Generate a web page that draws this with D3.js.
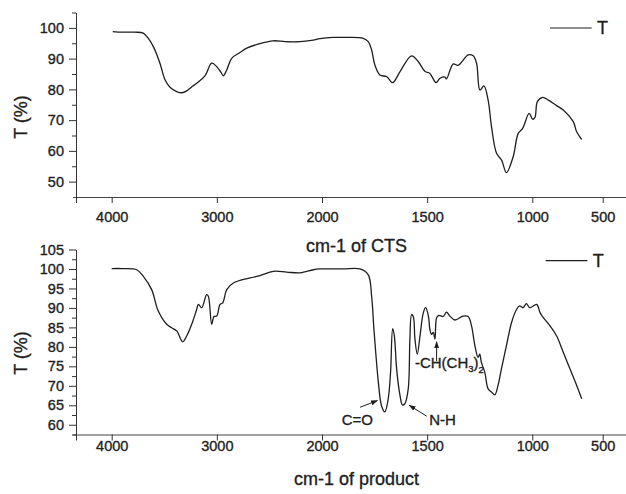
<!DOCTYPE html>
<html><head><meta charset="utf-8">
<script src="https://cdn.jsdelivr.net/npm/d3@7"></script>
<style>
html,body{margin:0;padding:0;background:#fff;}
svg{display:block;font-family:"Liberation Sans",Arial,Helvetica,sans-serif;}
svg text{stroke:#1e1e1e;stroke-width:0.35px;}
</style></head>
<body><svg id="c" width="626" height="494"></svg>
<script>
// ---- data (wavenumber cm-1, transmittance %) ----
const ctsWave = [3990,3900,3780,3700,3650,3604,3541,3493,3446,3382,3334,3287,3240,3192,3113,3049,3001,2960,2939,2906,2859,2780,2716,2600,2463,2350,2209,2100,2019,1946,1880,1804,1780,1764,1749,1725,1692,1664,1629,1574,1542,1510,1487,1458,1439,1415,1408,1376,1353,1305,1281,1265,1249,1230,1210,1194,1170,1146,1123,1091,1067,1046,1015,998,981,964,926,886,830,780,709,685,649];
const ctsT    = [98.8,98.6,98.6,98.3,96.5,93.9,88.5,83.1,80.7,79.3,78.9,79.5,80.8,82.0,84.4,88.5,87.4,85.5,84.4,86.3,90.1,92.0,93.4,94.8,95.8,95.5,95.5,95.9,96.5,96.9,96.9,96.6,95.5,92.8,88.0,84.7,84.1,82.2,85.8,90.9,89.0,85.8,85.2,82.2,83.6,84.0,83.4,88.3,87.8,91.2,90.9,88.5,79.8,81.1,76.5,67.9,59.2,57.0,52.9,58.1,65.7,67.3,72.2,70.3,70.9,76.0,77.4,76.5,74.8,73.3,69.5,66.2,63.7];

const prodWave = [4000,3900,3762,3699,3620,3557,3477,3430,3382,3325,3287,3239,3192,3176,3144,3097,3081,3049,3027,3001,2970,2944,2906,2843,2685,2590,2463,2336,2209,2082,2025,1900,1819,1780,1764,1753,1732,1717,1701,1685,1674,1664,1656,1645,1629,1618,1606,1590,1582,1574,1566,1558,1547,1534,1518,1507,1494,1487,1479,1471,1463,1455,1444,1424,1408,1392,1368,1329,1305,1289,1273,1258,1250,1242,1226,1210,1194,1178,1163,1147,1123,1099,1075,1060,1044,1028,1012,969,945,922,874,827,780,732,685,649];
const prodT    = [100.1,100.1,99.8,98.1,94.7,89.2,85.8,84.9,84.1,81.3,82.8,85.8,89.6,90.9,90.05,93.4,93.0,85.8,87.8,87.9,90.9,91.3,94.7,96.4,97.7,98.3,99.4,99.2,99.0,99.8,100,100,100,98.5,93.0,84.5,70.9,64.9,63.3,66.7,73.5,84.7,82.8,74.3,67.5,65.1,65.4,69.2,82.0,88.3,87.8,82.0,78.1,82.8,88.8,90.05,87.9,84.5,83.2,83.7,82.0,87.5,88.1,87.8,88.9,87.9,86.9,87.9,87.8,85.4,80.3,77.3,78.1,76.0,73.5,69.2,68.4,67.7,70.1,74.3,80.3,86.2,89.6,90.5,90.05,91.1,90.05,90.9,88.8,87.5,85.4,82.8,78.6,74.3,70.1,66.7];

const xTickValues = [4000,3000,2000,1500,1000,500];
const topYTicks = [50,60,70,80,90,100];
const botYTicks = [60,65,70,75,80,85,90,95,100,105];
const seriesName = "T";
const titles = ["cm-1 of CTS","cm-1 of product"];

// annotations: label, arrow-from (w,T), arrow-to (w,T), label anchor (w,T)
const annotations = [
  {text:"C=O", from:[1819,64.5], to:[1737,66.2], at:[1832,59.9], anchor:"middle"},
  {text:"N-H", from:[1502,62.2], to:[1585,65.0], at:[1490,59.9], anchor:"start"},
  {text:"-CH(CH", sub1:"3", mid:")", sub2:"2", from:[1455,76.3], to:[1455,81.3], at:[1558,74.6], anchor:"start"}
];

// ---- layout ----
const svg = d3.select("#c");
const axisX0 = 76, axisX1 = 626;
// piecewise scale matching the figure's tick spacing
const x = d3.scaleLinear().domain([4000,2000,1000,500]).range([111.7,322,532.3,602.7]);
const xStart = x.invert(axisX0 - 0.0001);

const panels = [
  {wave:ctsWave, t:ctsT, yDom:[45,105], yRange:[197,12.5], ticks:topYTicks, minor:d3.range(55,106,10), title:titles[0], titleY:251.5, tickLabY:222, ylabY:117, legY:28},
  {wave:prodWave, t:prodT, yDom:[57.5,105], yRange:[434.5,249.5], ticks:botYTicks, minor:d3.range(57.5,105,5), title:titles[1], titleY:485, tickLabY:451, ylabY:353, legY:260.7}
];

const ink = "#1e1e1e";
panels.forEach((p,i)=>{
  const y = d3.scaleLinear().domain(p.yDom).range(p.yRange);
  const g = svg.append("g");
  // x axis
  const xa = g.append("g").attr("transform",`translate(0,${p.yRange[0]})`)
    .call(d3.axisBottom(x).tickValues(xTickValues.concat([xStart])).tickSize(6).tickSizeOuter(0)
      .tickFormat(d=> xTickValues.includes(d) ? d3.format("d")(d) : ""));
  xa.select(".domain").attr("d",`M${axisX0-3},0.5H${axisX1}`).attr("stroke","#444");
  xa.selectAll(".tick line").attr("stroke","#333");
  xa.selectAll(".tick text").attr("font-size","14.5px").attr("fill",ink)
    .attr("y", null).attr("dy",null).attr("transform",`translate(0,${p.tickLabY - p.yRange[0]})`).attr("dominant-baseline","auto");
  // y axis major
  const ya = g.append("g").attr("transform",`translate(${axisX0},0)`)
    .call(d3.axisLeft(y).tickValues(p.ticks).tickSize(7).tickSizeOuter(0).tickPadding(5));
  ya.select(".domain").attr("stroke","#333");
  ya.selectAll(".tick line").attr("stroke","#333");
  ya.selectAll(".tick text").attr("font-size","14.5px").attr("fill",ink);
  // y minor
  g.append("g").attr("transform",`translate(${axisX0},0)`)
    .call(d3.axisLeft(y).tickValues(p.minor).tickSize(4).tickSizeOuter(0).tickFormat(""))
    .call(s=>s.select(".domain").remove())
    .selectAll("line").attr("stroke","#333");
  // y title
  g.append("text").attr("transform",`translate(21,${p.ylabY}) rotate(-90)`)
    .attr("text-anchor","middle").attr("dominant-baseline","central")
    .attr("font-size","18px").attr("fill",ink).text("T (%)");
  // x title
  g.append("text").attr("x",356.5).attr("y",p.titleY).attr("text-anchor","middle")
    .attr("font-size","18px").attr("fill",ink).text(p.title);
  // series
  const data = p.wave.map((w,k)=>({w, t:p.t[k]}));
  g.append("path").datum(data)
    .attr("fill","none").attr("stroke",ink).attr("stroke-width",1.3).attr("stroke-linejoin","round")
    .attr("d", d3.line().x(d=>x(d.w)).y(d=>y(d.t)).curve(d3.curveCatmullRom.alpha(0.5)));
  // legend
  const lx = i===0 ? 550 : 545.7;
  g.append("line").attr("x1",lx).attr("x2",lx+41.7).attr("y1",p.legY).attr("y2",p.legY)
    .attr("stroke",ink).attr("stroke-width",1.2);
  g.append("text").attr("x",lx+47).attr("y",p.legY+6.3).attr("font-size","18px").attr("fill",ink).text(seriesName);

  if(i===1){
    const defs = svg.append("defs");
    defs.append("marker").attr("id","ah").attr("viewBox","0 0 10 10").attr("refX",9).attr("refY",5)
      .attr("markerWidth",7).attr("markerHeight",7).attr("orient","auto-start-reverse")
      .append("path").attr("d","M0,1.5L10,5L0,8.5z").attr("fill",ink);
    annotations.forEach(a=>{
      g.append("line").attr("x1",x(a.from[0])).attr("y1",y(a.from[1]))
        .attr("x2",x(a.to[0])).attr("y2",y(a.to[1]))
        .attr("stroke",ink).attr("stroke-width",1).attr("marker-end","url(#ah)");
      const t = g.append("text").attr("x",x(a.at[0])).attr("y",y(a.at[1]))
        .attr("text-anchor",a.anchor).attr("font-size","15px").attr("fill",ink);
      t.append("tspan").text(a.text);
      if(a.sub1){
        t.append("tspan").attr("font-size","9.5px").attr("dy",4).text(a.sub1);
        t.append("tspan").attr("dy",-4).text(a.mid);
        t.append("tspan").attr("font-size","9.5px").attr("dy",5).text(a.sub2);
      }
    });
  }
});
</script></body></html>
